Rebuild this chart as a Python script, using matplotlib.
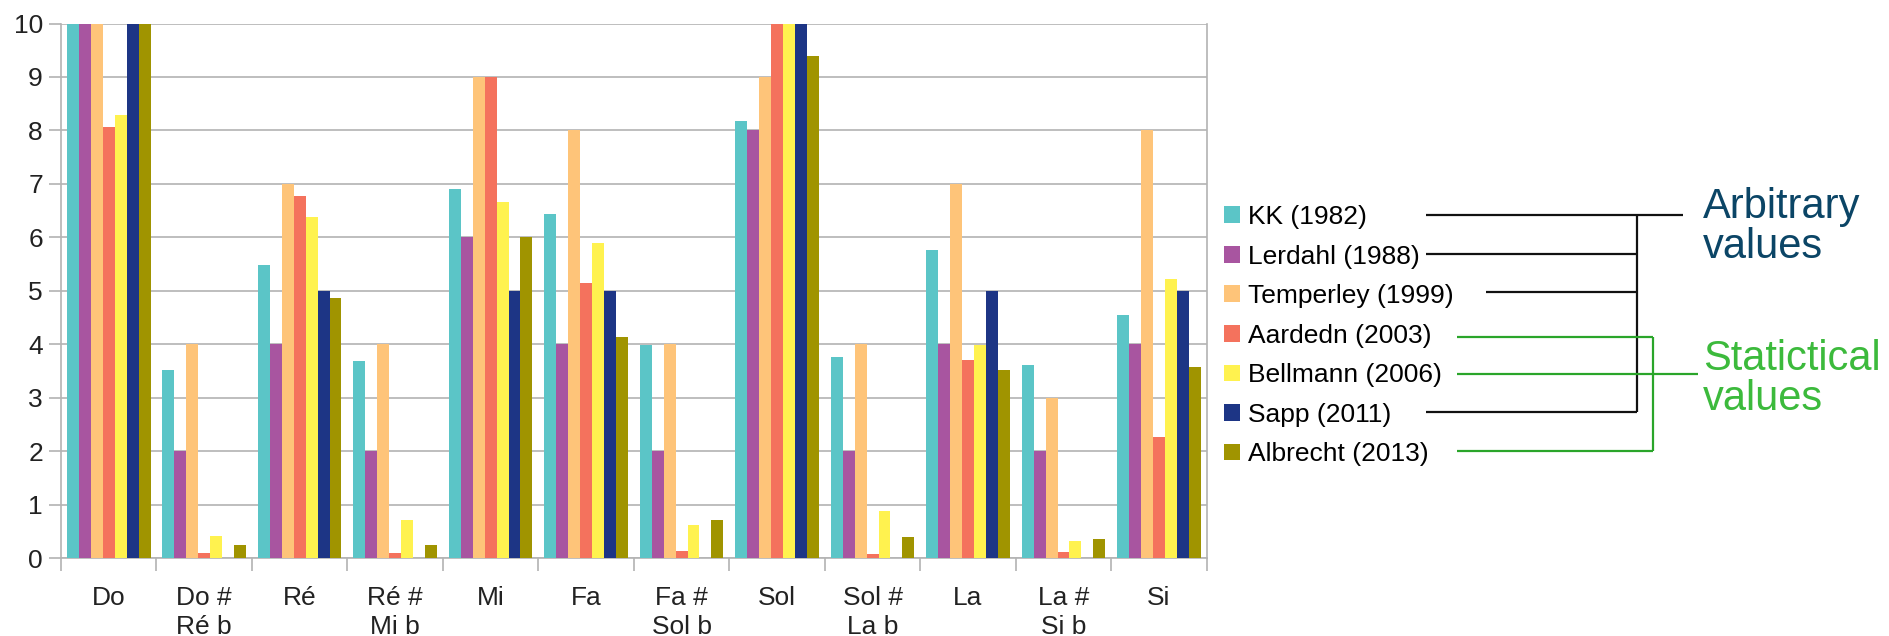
import numpy as np
import matplotlib
matplotlib.use("Agg")
import matplotlib.pyplot as plt
from matplotlib.lines import Line2D

plt.rcParams['font.family'] = ['Liberation Sans', 'DejaVu Sans']

notes = ["Do", "Do #\nRé b", "Ré", "Ré #\nMi b", "Mi", "Fa", "Fa #\nSol b",
         "Sol", "Sol #\nLa b", "La", "La #\nSi b", "Si"]

kk = [10, 3.52, 5.48, 3.68, 6.91, 6.44, 3.98, 8.17, 3.77, 5.77, 3.62, 4.55]
lerdahl = [10, 2, 4, 2, 6, 4, 2, 8, 2, 4, 2, 4]
temperley = [10, 4, 7, 4, 9, 8, 4, 9, 4, 7, 3, 8]
aarden = [8.07, 0.09, 6.78, 0.09, 9.0, 5.15, 0.14, 10, 0.08, 3.70, 0.11, 2.26]
bellmann = [8.28, 0.42, 6.39, 0.71, 6.66, 5.89, 0.62, 10, 0.89, 3.98, 0.33, 5.22]
sapp = [10, 0, 5, 0, 5, 5, 0, 10, 0, 5, 0, 5]
albrecht = [10, 0.25, 4.87, 0.25, 6.0, 4.13, 0.71, 9.39, 0.40, 3.52, 0.36, 3.57]

series = [kk, lerdahl, temperley, aarden, bellmann, sapp, albrecht]
names = ["KK (1982)", "Lerdahl (1988)", "Temperley (1999)", "Aardedn (2003)",
         "Bellmann (2006)", "Sapp (2011)", "Albrecht (2013)"]
colors = ["#5bc5c7", "#a855a0", "#fec479", "#f4725d", "#fff24f", "#1d3585", "#a09400"]

W, H = 1889, 636
fig = plt.figure(figsize=(W / 100, H / 100), dpi=100)
ax = fig.add_axes([61 / W, 1 - 558.3 / H, (1206.7 - 61) / W, (558.3 - 23.5) / H])

x = np.arange(len(notes))
bw = 0.125
for i, (vals, name, c) in enumerate(zip(series, names, colors)):
    ax.bar(x + (i - 3) * bw, vals, width=bw, color=c, label=name, zorder=3)

ax.set_xlim(-0.5, len(notes) - 0.5)
ax.set_ylim(0, 10)
ax.set_yticks(range(11))
ax.yaxis.grid(True, color="#b3b3b3", lw=1.2, zorder=0)
ax.set_axisbelow(True)
for s in ax.spines.values():
    s.set_color("#b3b3b3")
    s.set_linewidth(1.2)
ax.spines['top'].set_visible(False)

ax.set_xticks(x)
ax.set_xticklabels(notes, fontsize=19, color="#222222", linespacing=1.25)
ax.set_xticks(np.arange(-0.5, len(notes)), minor=True)
ax.tick_params(axis='x', which='major', length=0, pad=20)
ax.tick_params(axis='x', which='minor', length=9, width=1.2, color="#b3b3b3")
ax.tick_params(axis='y', length=9, width=1.2, color="#b3b3b3", labelsize=19,
               labelcolor="#222222", pad=4)

leg = ax.legend(loc='upper left', bbox_to_anchor=(1224 / W, 1 - 205 / H),
                bbox_transform=fig.transFigure, frameon=False, fontsize=19,
                handlelength=0.6, handleheight=0.6, handletextpad=0.32,
                labelspacing=0.59, borderpad=0, borderaxespad=0)

# bracket lines (pixel coords of the original layout)
def pline(xs, ys, color, lw=1.6):
    fig.add_artist(Line2D([v / W for v in xs], [1 - v / H for v in ys],
                          transform=fig.transFigure, color=color, lw=lw,
                          solid_capstyle='butt'))

black = "#111111"
green = "#2aa52a"
pline([1426, 1683], [215.5, 215.5], black)
pline([1426, 1637], [253.5, 253.5], black)
pline([1486, 1637], [291.8, 291.8], black)
pline([1426, 1637], [412.3, 412.3], black)
pline([1637, 1637], [215.5, 412.3], black)

pline([1457, 1653], [336.7, 336.7], green)
pline([1457, 1698], [374.5, 374.5], green)
pline([1457, 1653], [450.5, 450.5], green)
pline([1653, 1653], [336.7, 450.5], green)

fig.text(1703 / W, 1 - 258 / H, "Arbitrary\nvalues", fontsize=30, color="#0b4566",
         ha='left', va='baseline', linespacing=1.0)
fig.text(1703 / W, 1 - 410.5 / H, "Statictical\nvalues", fontsize=30, color="#3cba3c",
         ha='left', va='baseline', linespacing=1.0)

fig.savefig("out.png", dpi=100, facecolor="white")
